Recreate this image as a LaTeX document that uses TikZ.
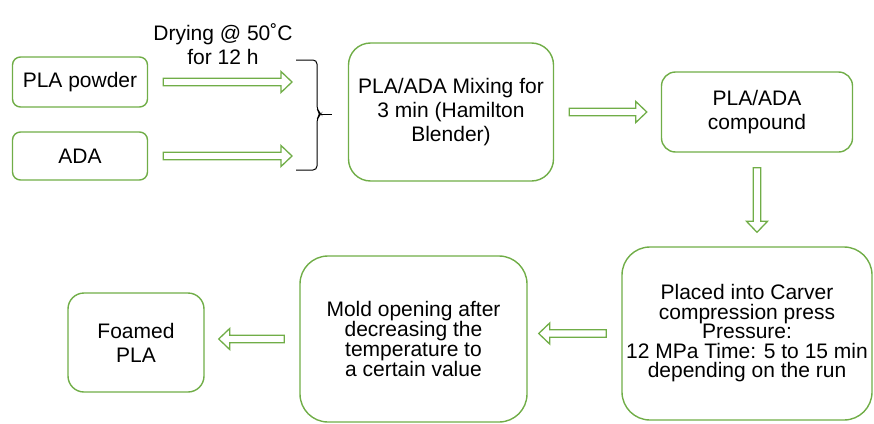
\documentclass[tikz,border=0pt]{standalone}
\usepackage{fontspec}
\setmainfont{Liberation Sans}
\usetikzlibrary{calc}
\definecolor{leaf}{RGB}{112,173,71}
\tikzset{
    every node/.style={font=\fontsize{21}{24}\selectfont, align=center}
}
\tikzset{
    box/.style={draw=leaf, line width=1.4pt, inner sep=0pt}
}
\tikzset{
    tight/.style={font=\fontsize{21}{19.5}\selectfont}
}
\tikzset{
    hollow/.style={draw=leaf, line width=1.3pt, line join=miter, to path={
        ($(\tikztostart)!15pt!(\tikztotarget)!3.8pt!90:(\tikztotarget)$)
        -- ($(\tikztotarget)!{#1+11pt}!(\tikztostart)!3.8pt!90:(\tikztotarget)$)
        -- ($(\tikztotarget)!{#1+11pt}!(\tikztostart)!10.5pt!90:(\tikztotarget)$)
        -- ($(\tikztotarget)!#1!(\tikztostart)$)
        -- ($(\tikztotarget)!{#1+11pt}!(\tikztostart)!10.5pt!-90:(\tikztotarget)$)
        -- ($(\tikztotarget)!{#1+11pt}!(\tikztostart)!3.8pt!-90:(\tikztotarget)$)
        -- ($(\tikztostart)!15pt!(\tikztotarget)!3.8pt!-90:(\tikztotarget)$)
        -- cycle}},
    hollow/.default=14pt
}

\begin{document}
\begin{tikzpicture}[x=1pt, y=-1pt]
  \useasboundingbox (0,0) rectangle (874,423);

  \node (pla) [box, minimum width=135pt, minimum height=50pt, rounded corners=8pt] at (80,82) {PLA powder};
  \node (ada) [box, minimum width=135pt, minimum height=48pt, rounded corners=8pt] at (80,156) {ADA};
  \node (dry) at (223,44) {Drying @ 50˚C\\for 12 h};
  \coordinate (tip) at (332,114);

  \node (mix) [box, minimum width=205pt, minimum height=138pt, rounded corners=22pt] at (451,112) {PLA/ADA Mixing for\\3 min (Hamilton\\Blender)};
  \node (comp) [box, minimum width=191pt, minimum height=80pt, rounded corners=14pt] at (757,112) {PLA/ADA\\compound};
  \node (press) [box, tight, minimum width=250pt, minimum height=173pt, rounded corners=28pt] at (747,333.5) {Placed into Carver\\compression press\\Pressure:\\12 MPa Time: 5 to 15 min\\depending on the run};
  \node (mold) [box, tight, minimum width=227pt, minimum height=166pt, rounded corners=28pt] at (413.5,339) {Mold opening after\\decreasing the\\temperature to\\a certain value};
  \node (foam) [box, minimum width=136pt, minimum height=99pt, rounded corners=16pt] at (136,342.5) {Foamed\\PLA};

  \draw[line width=1pt, rounded corners=4pt] (296,60) -- (317,60) -- (317,110) -- (321,114) -- (317,118) -- (317,170) -- (296,170);
  \draw[line width=1pt] (321,114) -- (tip);

  \draw[hollow=40pt] (pla.east) to (pla.east -| tip);
  \draw[hollow=40pt] (ada.east) to (ada.east -| tip);
  \draw[hollow] (mix.east) to (comp.west);
  \draw[hollow] (comp.south) to (comp.south |- press.north);
  \draw[hollow=11pt] (press.west) to (press.west -| mold.east);
  \draw[hollow] (mold.west) to (mold.west -| foam.east);
\end{tikzpicture}
\end{document}
